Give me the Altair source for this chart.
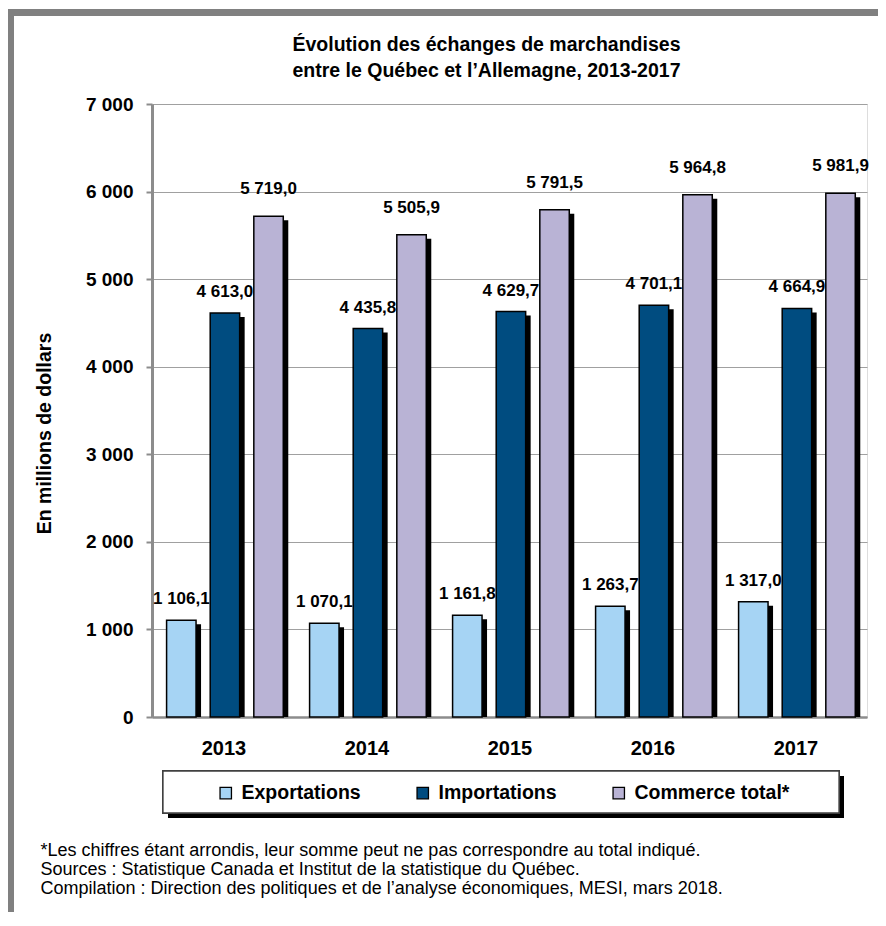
import altair as alt
import pandas as pd

# ---- data ----
years = ["2013", "2014", "2015", "2016", "2017"]
series = ["Exportations", "Importations", "Commerce total*"]
exportations = [1106.1, 1070.1, 1161.8, 1263.7, 1317.0]
importations = [4613.0, 4435.8, 4629.7, 4701.1, 4664.9]
commerce_total = [5719.0, 5505.9, 5791.5, 5964.8, 5981.9]
colors = ["#A6D4F4", "#004C80", "#B9B3D5"]
y_ticks = [0, 1000, 2000, 3000, 4000, 5000, 6000, 7000]
title_lines = ["Évolution des échanges de marchandises",
               "entre le Québec et l’Allemagne, 2013-2017"]
notes = ["*Les chiffres étant arrondis, leur somme peut ne pas correspondre au total indiqué.",
         "Sources : Statistique Canada et Institut de la statistique du Québec.",
         "Compilation : Direction des politiques et de l’analyse économiques, MESI, mars 2018."]

rows = []
for si, (s, vals) in enumerate(zip(series, [exportations, importations, commerce_total])):
    for yi, (yr, v) in enumerate(zip(years, vals)):
        lab = f"{v:,.1f}".replace(",", " ").replace(".", ",")
        rows.append(dict(annee=yr, serie=s, valeur=v, label=lab, i=yi, pos=si - 1))
df = pd.DataFrame(rows)

FONT = "Liberation Sans, Arial, sans-serif"
GRID = "#A0A0A0"
FRAME = "#808080"

base = alt.Chart(df).transform_calculate(
    xc="datum.i + 0.51 + datum.pos * 0.305"
).transform_calculate(
    x0="datum.xc - 0.103", x1="datum.xc + 0.103"
)

xlab = "['" + "','".join(years) + "'][floor(datum.value)]"
xenc = alt.X("x0:Q", scale=alt.Scale(domain=[0, 5], nice=False, zero=False),
             axis=alt.Axis(values=[0.5, 1.5, 2.5, 3.5, 4.5], labelExpr=xlab,
                           title=notes, titleFont=FONT, titleFontSize=18,
                           titleFontWeight="normal", titleColor="black",
                           titleAlign="left", titleAngle=0, titleBaseline="alphabetic",
                           titleX=-112, titleY=138, titleLineHeight=19,
                           grid=False, ticks=False, domainColor="#8C8C8C", domainWidth=2.5,
                           labelFont=FONT, labelFontSize=20, labelFontWeight="bold",
                           labelColor="black", labelPadding=21))
yenc = alt.Y("valeur:Q", scale=alt.Scale(domain=[0, 7000], nice=False),
             axis=alt.Axis(values=y_ticks,
                           labelExpr="replace(format(datum.value, ',d'), ',', ' ')",
                           title="En millions de dollars", titleFont=FONT, titleFontSize=19.5,
                           titleFontWeight="bold", titleColor="black",
                           titleX=-108, titleY=329, titleBaseline="middle", titleAngle=-90,
                           labelFont=FONT, labelFontSize=19, labelFontWeight="bold",
                           labelColor="black", labelPadding=13,
                           tickSize=6, tickColor="#8C8C8C", tickWidth=2,
                           domainColor="#8C8C8C", domainWidth=3,
                           gridColor=GRID, gridWidth=1.2))

# decorative frame and legend box (page furniture, not data)
frame_top = alt.Chart(df).mark_rule(color=FRAME, strokeWidth=4.5).encode(
    x=alt.value(-150), x2=alt.value(760), y=alt.value(-92.5))
frame_left = alt.Chart(df).mark_rule(color=FRAME, strokeWidth=4).encode(
    x=alt.value(-142.5), y=alt.value(-95), y2=alt.value(830))
frame_top_in = alt.Chart(df).mark_rule(color=FRAME, strokeWidth=1.2).encode(
    x=alt.value(-139.5), x2=alt.value(760), y=alt.value(-89.3))
frame_left_in = alt.Chart(df).mark_rule(color=FRAME, strokeWidth=1.2).encode(
    x=alt.value(-139.3), y=alt.value(-89.5), y2=alt.value(830))
legend_shadow = alt.Chart(df).mark_rect(color="black").encode(
    x=alt.value(16), x2=alt.value(692), y=alt.value(672), y2=alt.value(714))
legend_box = alt.Chart(df).mark_rect(fill="white", stroke="#404040", strokeWidth=1.3).encode(
    x=alt.value(11), x2=alt.value(687), y=alt.value(667), y2=alt.value(709))

shadow = base.mark_bar(color="black", xOffset=5, x2Offset=5, yOffset=4).encode(
    x=xenc, x2="x1:Q", y=yenc, y2=alt.datum(0))

bars = base.mark_bar(stroke="black", strokeWidth=1.5).encode(
    x=xenc, x2="x1:Q", y=yenc, y2=alt.datum(0),
    color=alt.Color("serie:N", sort=series,
                    scale=alt.Scale(domain=series, range=colors),
                    legend=alt.Legend(title=None, orient="none", legendX=64, legendY=679,
                                      direction="horizontal", symbolType="square",
                                      symbolSize=130, symbolStrokeColor="black",
                                      symbolStrokeWidth=1.3, labelOffset=6,
                                      labelFont=FONT, labelFontSize=19.5, labelFontWeight="bold",
                                      labelColor="black", columnPadding=52, padding=0,
                                      labelLimit=400)))

lab_small = base.transform_filter(alt.datum.pos < 1).mark_text(
    font=FONT, fontSize=17, fontWeight="bold", color="black",
    baseline="bottom", dy=-12).encode(
    x=alt.X("xc:Q"), y=alt.Y("valeur:Q"), text="label:N")
lab_total = base.transform_filter(alt.datum.pos == 1).mark_text(
    font=FONT, fontSize=17, fontWeight="bold", color="black",
    baseline="bottom", dy=-18).encode(
    x=alt.X("xc:Q"), y=alt.Y("valeur:Q"), text="label:N")

chart = alt.layer(frame_top, frame_left, frame_top_in, frame_left_in,
                  legend_shadow, legend_box,
                  shadow, bars, lab_small, lab_total).properties(
    width=715, height=613,
    autosize=alt.AutoSizeParams(type="none"),
    padding={"left": 144, "top": 96, "right": 11, "bottom": 195},
    title=alt.TitleParams(title_lines, anchor="middle", font=FONT, fontSize=19.5,
                          fontWeight="bold", color="black", lineHeight=26, offset=-74,
                          dx=-23)
).configure_view(stroke=GRID, strokeWidth=1.5).configure(background="white")

chart.save("out.html", embed_options={"renderer": "svg", "actions": False})
